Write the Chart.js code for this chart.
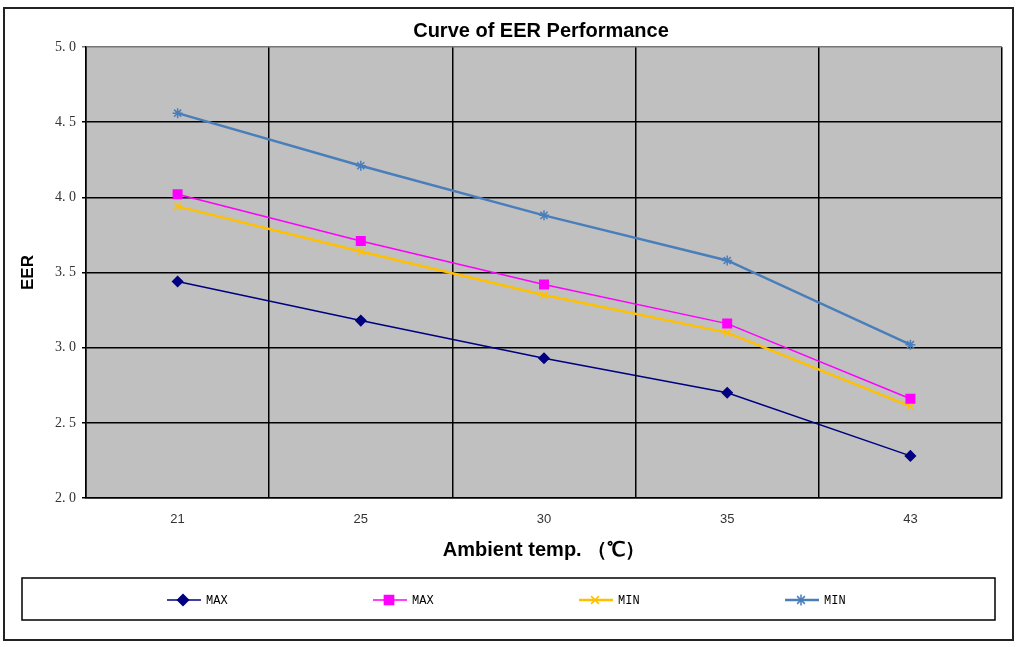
<!DOCTYPE html>
<html>
<head>
<meta charset="utf-8">
<script src="https://cdn.jsdelivr.net/npm/chart.js@4/dist/chart.umd.min.js"></script>
<style>
  html, body { margin: 0; padding: 0; background: #fff; }
  #wrap { width: 1018px; height: 647px; position: relative; }
</style>
</head>
<body>
<div id="wrap"><canvas id="eerChart" width="1018" height="647"></canvas></div>
<script>
// chart data
const categories = ['21', '25', '30', '35', '43'];
const maxNavy = [3.44, 3.18, 2.93, 2.70, 2.28];
const maxPink = [4.02, 3.71, 3.42, 3.16, 2.66];
const minGold = [3.94, 3.64, 3.35, 3.10, 2.61];
const minBlue = [4.56, 4.21, 3.88, 3.58, 3.02];
const yTickLabels = ['2. 0', '2. 5', '3. 0', '3. 5', '4. 0', '4. 5', '5. 0'];
const seriesNames = ['MAX', 'MAX', 'MIN', 'MIN'];

const chartTitle = 'Curve of EER Performance';

// background, frame, title and legend box
const framePlugin = {
    id: 'frame',
    beforeDraw(chart) {
        const ctx = chart.ctx;
        const a = chart.chartArea;
        ctx.save();
        ctx.fillStyle = '#fff';
        ctx.fillRect(0, 0, chart.width, chart.height);
        ctx.strokeStyle = '#222';
        ctx.lineWidth = 2;
        ctx.strokeRect(4, 8, 1009, 632);
        ctx.fillStyle = '#c0c0c0';
        ctx.fillRect(a.left, a.top, a.right - a.left, a.bottom - a.top);
        ctx.restore();
    },
    afterDraw(chart) {
        const ctx = chart.ctx;
        ctx.save();
        // title
        ctx.fillStyle = '#000';
        ctx.font = 'bold 20px "Liberation Sans", Arial, sans-serif';
        ctx.textAlign = 'center';
        ctx.textBaseline = 'middle';
        ctx.fillText(chartTitle, 541, 31);

        // legend box
        ctx.strokeStyle = '#000';
        ctx.lineWidth = 1.5;
        ctx.strokeRect(22, 578, 973, 42);
        const y = 600;
        ctx.font = '12px "Liberation Mono", monospace';
        ctx.textAlign = 'left';
        chart.data.datasets.forEach((ds, i) => {
            const x0 = 167 + i * 206;
            ctx.strokeStyle = ds.borderColor;
            ctx.lineWidth = ds.borderWidth;
            ctx.beginPath();
            ctx.moveTo(x0, y);
            ctx.lineTo(x0 + 34, y);
            ctx.stroke();
            ctx.fillStyle = ds.pointBackgroundColor;
            ctx.strokeStyle = ds.pointBorderColor;
            ctx.lineWidth = ds.pointBorderWidth;
            Chart.helpers.drawPoint(ctx, {
                pointStyle: ds.pointStyle,
                radius: ds.pointRadius + 0.5,
                rotation: 0,
                borderWidth: ds.pointBorderWidth
            }, x0 + 16, y);
            ctx.fillStyle = '#000';
            ctx.fillText(ds.label, x0 + 39, y + 1);
        });
        ctx.restore();
    }
};

function makeSet(label, data, color, width, style, radius) {
    return {
        label: label,
        data: data,
        borderColor: color,
        borderWidth: width,
        pointStyle: style,
        pointRadius: radius,
        pointHoverRadius: radius,
        pointBackgroundColor: color,
        pointBorderColor: color,
        pointBorderWidth: 1.5,
        tension: 0
    };
}

const ctx = document.getElementById('eerChart').getContext('2d');
const myChart = new Chart(ctx, {
    type: 'line',
    data: {
        labels: categories,
        datasets: [
            makeSet(seriesNames[0], maxNavy, '#000080', 1.5, 'rectRot', 5),
            makeSet(seriesNames[1], maxPink, '#ff00ff', 1.5, 'rect', 6),
            makeSet(seriesNames[2], minGold, '#ffc000', 2.5, 'crossRot', 5),
            makeSet(seriesNames[3], minBlue, '#4a7ebb', 2.5, 'star', 5)
        ]
    },
    options: {
        responsive: false,
        animation: false,
        layout: { padding: { top: 47, right: 16, left: 0, bottom: 85 } },
        plugins: {
            legend: { display: false },
            title: { display: false },
            tooltip: { enabled: false }
        },
        scales: {
            x: {
                offset: true,
                afterFit(scale) { scale.height = 64; },
                grid: {
                    offset: true,
                    color: '#000',
                    lineWidth: 1.5,
                    drawTicks: false
                },
                border: { color: '#000', width: 1.5 },
                ticks: {
                    padding: 14,
                    color: '#333',
                    font: { family: '"Liberation Sans", Arial, sans-serif', size: 13 }
                },
                title: {
                    display: true,
                    text: 'Ambient temp. （℃）',
                    color: '#000',
                    font: { family: '"Liberation Sans", Arial, sans-serif', size: 20, weight: 'bold' },
                    padding: { top: 8, bottom: 0 }
                }
            },
            y: {
                min: 2,
                max: 5,
                afterFit(scale) { scale.width = 86; },
                grid: {
                    color: c => (c.tick && c.tick.value === 5) ? '#777' : '#000',
                    lineWidth: 1.5,
                    tickLength: 4
                },
                border: { color: '#000', width: 1.5 },
                ticks: {
                    stepSize: 0.5,
                    padding: 6,
                    color: '#333',
                    font: { family: '"Liberation Serif", "DejaVu Serif", serif', size: 14 },
                    callback: (v, i) => yTickLabels[i]
                },
                title: {
                    display: true,
                    text: 'EER',
                    color: '#000',
                    font: { family: '"Liberation Sans", Arial, sans-serif', size: 17, weight: 'bold' },
                    padding: { top: 18, bottom: 0 }
                }
            }
        }
    },
    plugins: [framePlugin]
});
</script>
</body>
</html>
